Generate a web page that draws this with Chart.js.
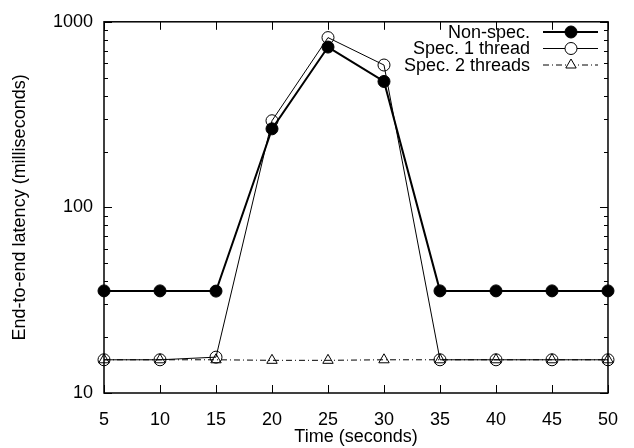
<!DOCTYPE html>
<html>
<head>
<meta charset="utf-8">
<script src="https://cdn.jsdelivr.net/npm/chart.js@4/dist/chart.umd.min.js"></script>
<style>
html,body{margin:0;padding:0;background:#fff;}
canvas{display:block;}
</style>
</head>
<body>
<canvas id="c" width="634" height="448"></canvas>
<script>
const times = [5, 10, 15, 20, 25, 30, 35, 40, 45, 50];
const nonSpec = [35.5, 35.5, 35.4, 265, 731, 477, 35.5, 35.5, 35.5, 35.5];
const spec1 = [15.1, 15.1, 15.6, 293, 822, 585, 15.1, 15.1, 15.1, 15.1];
const spec2 = [15.1, 15.1, 15.1, 15.0, 15.0, 15.1, 15.1, 15.1, 15.1, 15.1];
const seriesLabels = ['Non-spec.', 'Spec. 1 thread', 'Spec. 2 threads'];
const xTicks = [5, 10, 15, 20, 25, 30, 35, 40, 45, 50];
const yMajor = [10, 100, 1000];

const FONT = 'Liberation Sans, Arial, Helvetica, sans-serif';
const FS = 18;
Chart.defaults.font.family = FONT;
Chart.defaults.font.size = FS;
Chart.defaults.color = '#000';

function pts(arr){ return times.map((t,i)=>({x:t,y:arr[i]})); }

const yAll = [];
for (let d = 10; d < 1000; d *= 10) for (let m = 1; m < 10; m++) yAll.push(m*d);
yAll.push(1000);

const framePlugin = {
  id: 'frame',
  beforeDatasetsDraw(chart){
    const {ctx, chartArea:a, scales:{x,y}} = chart;
    ctx.save();
    ctx.strokeStyle = '#000';
    ctx.lineWidth = 1;
    ctx.beginPath();
    xTicks.forEach(v=>{
      const px = Math.round(x.getPixelForValue(v))+0.5;
      ctx.moveTo(px, a.bottom); ctx.lineTo(px, a.bottom-8);
      ctx.moveTo(px, a.top); ctx.lineTo(px, a.top+8);
    });
    yAll.forEach(v=>{
      const py = Math.round(y.getPixelForValue(v))+0.5;
      const len = yMajor.includes(v) ? 8 : 4;
      ctx.moveTo(a.left, py); ctx.lineTo(a.left+len, py);
      ctx.moveTo(a.right, py); ctx.lineTo(a.right-len, py);
    });
    ctx.stroke();
    ctx.lineWidth = 1.5;
    ctx.strokeRect(a.left, a.top, a.right-a.left, a.bottom-a.top);
    ctx.restore();
  },
  afterDraw(chart){
    const {ctx} = chart;
    const rows = [32, 48.5, 65];
    ctx.save();
    ctx.font = FS + 'px ' + FONT;
    ctx.textAlign = 'right';
    ctx.textBaseline = 'middle';
    chart.data.datasets.forEach((ds,i)=>{
      const yy = rows[i];
      ctx.fillStyle = '#000';
      ctx.fillText(ds.label, 530, yy+1);
      ctx.strokeStyle = '#000';
      ctx.lineWidth = ds.borderWidth;
      ctx.setLineDash(ds.borderDash || []);
      ctx.beginPath(); ctx.moveTo(543, yy); ctx.lineTo(598, yy); ctx.stroke();
      ctx.setLineDash([]);
      ctx.fillStyle = ds.pointBackgroundColor === '#000' ? '#000' : '#fff';
      ctx.lineWidth = 1;
      ctx.beginPath();
      const r = ds.pointRadius;
      if (ds.pointStyle === 'circle') {
        ctx.arc(571, yy, r, 0, Math.PI*2);
      } else {
        ctx.moveTo(571, yy - r);
        ctx.lineTo(571 + r*Math.sin(Math.PI*2/3), yy - r*Math.cos(Math.PI*2/3));
        ctx.lineTo(571 + r*Math.sin(Math.PI*4/3), yy - r*Math.cos(Math.PI*4/3));
        ctx.closePath();
      }
      ctx.fill(); ctx.stroke();
    });
    ctx.restore();
  }
};

new Chart(document.getElementById('c'), {
  type: 'line',
  data: {
    datasets: [
      { label: seriesLabels[0], data: pts(nonSpec), borderColor:'#000', borderWidth:2,
        pointStyle:'circle', pointRadius:6, pointBackgroundColor:'#000', pointBorderColor:'#000', pointBorderWidth:1, clip:false },
      { label: seriesLabels[1], data: pts(spec1), borderColor:'#000', borderWidth:1,
        pointStyle:'circle', pointRadius:6, pointBackgroundColor:'rgba(255,255,255,0)', pointBorderColor:'#000', pointBorderWidth:1, clip:false },
      { label: seriesLabels[2], data: pts(spec2), borderColor:'#000', borderWidth:1, borderDash:[6,3,1,3],
        pointStyle:'triangle', pointRadius:6, pointBackgroundColor:'rgba(255,255,255,0)', pointBorderColor:'#000', pointBorderWidth:1, clip:false }
    ]
  },
  options: {
    responsive: false,
    animation: false,
    devicePixelRatio: 1,
    layout: { padding: { top: 15, right: 15, left: 0, bottom: 0 } },
    plugins: { legend: { display:false }, tooltip: { enabled:false } },
    elements: { line: { tension: 0 } },
    scales: {
      x: {
        type: 'linear', min: 5, max: 50,
        afterBuildTicks(s){ s.ticks = xTicks.map(v=>({value:v})); },
        afterFit(s){ s.height = 55; },
        grid: { display:false, drawTicks:false },
        border: { display:false },
        ticks: { padding: 16, autoSkip:false, maxRotation:0, color:'#000', font:{size:FS} },
        title: { display:true, text:'Time (seconds)', color:'#000', font:{size:FS}, padding:{top:0,bottom:0} }
      },
      y: {
        type: 'logarithmic', min: 10, max: 1000,
        afterBuildTicks(s){ s.ticks = yAll.map(v=>({value:v})); },
        afterFit(s){ s.width = 104; },
        grid: { display:false, drawTicks:false },
        border: { display:false },
        ticks: { padding: 11, autoSkip:false, color:'#000', font:{size:FS},
          callback(v){ return yMajor.includes(v) ? String(v) : ''; } },
        title: { display:true, text:'End-to-end latency (milliseconds)', color:'#000', font:{size:FS}, padding:{top:9,bottom:0} }
      }
    }
  },
  plugins: [framePlugin]
});
</script>
</body>
</html>
